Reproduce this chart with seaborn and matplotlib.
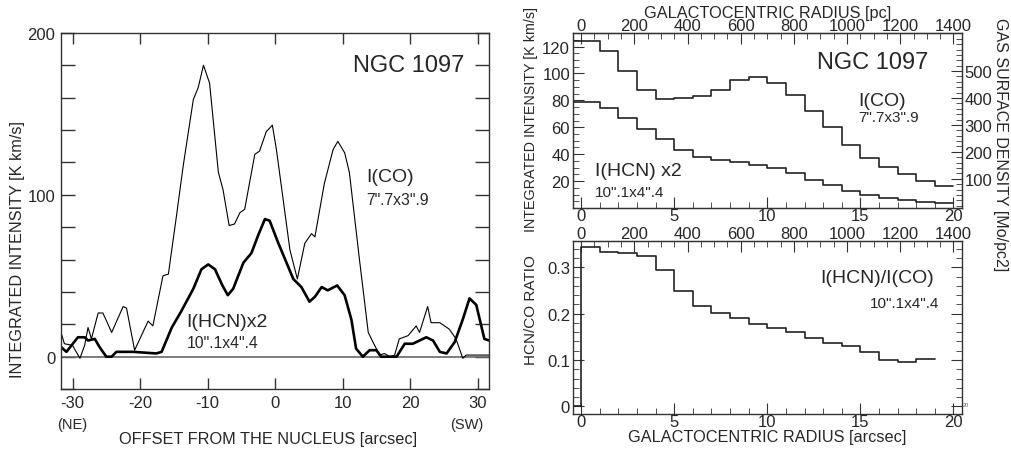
import numpy as np
import pandas as pd
import matplotlib
matplotlib.use("Agg")
import matplotlib.pyplot as plt
from matplotlib.ticker import MultipleLocator
import seaborn as sns

# ---- left panel: strip profiles along the bar (offset [arcsec], intensity [K km/s])
co_x = [-31.7, -31.2, -30.0, -28.9, -28.2, -27.7, -27.2, -26.2, -25.5, -24.2, -22.5, -22.0,
        -20.8, -18.8, -18.1, -16.6, -15.8, -14.6, -13.6, -12.1, -11.4, -10.6, -9.7, -8.4,
        -7.7, -6.8, -6.0, -5.2, -4.5, -3.0, -2.3, -1.3, -0.4, 0.2, 1.2, 2.2, 3.3, 4.4,
        5.4, 5.9, 7.3, 8.6, 9.3, 10.3, 11.0, 12.5, 13.8, 14.5, 15.5, 16.2, 17.0, 17.7,
        18.4, 19.7, 20.9, 21.4, 22.6, 23.1, 24.4, 25.8, 26.8, 27.8, 28.3, 31.7]
co_y = [15, 8, 7, -1, 7, 18, 11, 27, 27, 15, 31, 30,
        4, 22, 19, 50, 51, 87, 118, 159, 166, 180, 169, 114,
        103, 81, 82, 89, 91, 125, 127, 139, 143, 128, 97, 66, 48, 70,
        76, 74, 107, 128, 133, 126, 114, 60, 15, 9, 1, 2, 0, 1,
        11, 13, 19, 15, 31, 21, 21, 17, 11, -1, 1, 1]

hcn_x = [-31.7, -30.9, -29.2, -28.2, -27.7, -26.7, -26.0, -25.0, -24.2, -23.5, -21.0, -17.6,
         -16.8, -15.3, -13.9, -12.1, -10.9, -9.9, -8.9, -7.8, -7.0, -6.2, -4.7, -3.5,
         -2.5, -1.5, -0.8, 0.4, 1.4, 2.7, 3.9, 5.1, 5.9, 6.9, 7.8, 9.2, 10.3, 11.3,
         12.0, 13.0, 14.0, 15.0, 15.7, 18.0, 19.2, 20.4, 22.4, 23.4, 24.4, 25.4, 26.6,
         27.8, 28.8, 29.8, 31.0, 31.7]
hcn_y = [6, 3, 12, 12, 10, 11, 6, 0, 0, 3, 3, 2,
         3, 18, 28, 42, 54, 57, 54, 44, 38, 42, 58, 64,
         75, 85, 84, 71, 61, 48, 43, 34, 37, 43, 41, 44, 38, 23,
         5, 0, 4, 4, 0, 0, 8, 8, 12, 10, 3, 2, 9,
         23, 36, 32, 11, 10]

# ---- right panels: azimuthally averaged radial profiles, 1" bins
r_edges = list(range(0, 21))
co_rad = [124, 117, 102, 88, 81, 82, 83, 88, 95.5, 97, 93, 84, 72, 60, 47, 37, 30.5, 25.5, 20, 16.4]
hcn_rad = [79, 74, 67, 59, 51, 43, 38, 36, 34, 32, 30, 26, 20.6, 17, 13, 10, 7.4, 5.7, 4.5, 4]
ratio_rad = [0.343, 0.334, 0.330, 0.324, 0.294, 0.248, 0.217, 0.201, 0.190, 0.178,
             0.169, 0.160, 0.147, 0.136, 0.131, 0.117, 0.100, 0.096, 0.103]

PC_PER_ARCSEC = 70.0
RXMIN, RXMAX = -0.45, 20.45

sns.set_style("ticks")
plt.rcParams["font.family"] = ["Liberation Sans", "DejaVu Sans"]
plt.rcParams["axes.unicode_minus"] = False

TICK_FS = 12
LAB_FS = 11.7
LINE = "#333333"

fig = plt.figure(figsize=(10.12, 4.52), dpi=100)
axL = fig.add_axes([0.0603, 0.137, 0.423, 0.788])
axT = fig.add_axes([0.566, 0.5376, 0.3844, 0.387])
axB = fig.add_axes([0.566, 0.0819, 0.3844, 0.3834])

dark = "#222222"
for ax in (axL, axT, axB):
    for s in ax.spines.values():
        s.set_color(LINE)
        s.set_linewidth(1.0)

# ---------------- left panel
axL.axhline(0, color="#666666", lw=1.2, zorder=1)
sns.lineplot(x=co_x, y=co_y, ax=axL, color="black", lw=0.8, sort=False, estimator=None)
sns.lineplot(x=hcn_x, y=hcn_y, ax=axL, color="black", lw=1.9, sort=False, estimator=None)
axL.set_xlim(-31.7, 31.7)
axL.set_ylim(-20, 200)
axL.xaxis.set_major_locator(MultipleLocator(10))
axL.yaxis.set_major_locator(MultipleLocator(100))
axL.yaxis.set_minor_locator(MultipleLocator(20))
axL.tick_params(axis="both", which="both", direction="in", top=True, right=True,
                labelsize=TICK_FS, color=LINE, width=1.0, pad=4)
axL.tick_params(axis="y", which="both", length=10)
axL.tick_params(axis="x", which="both", length=8)
axL.set_xlabel("")
axL.set_ylabel("")
axL.text(11.6, 180, "NGC 1097", fontsize=17, ha="left", va="center")
axL.text(13.5, 111, "I(CO)", fontsize=14, ha="left", va="center")
axL.text(13.5, 97, "7\".7x3\".9", fontsize=11.3, ha="left", va="center")
axL.text(-13.1, 21.5, "I(HCN)x2", fontsize=14, ha="left", va="center")
axL.text(-13.1, 9, "10\".1x4\".4", fontsize=11.3, ha="left", va="center")
fig.text(71.7 / 1012, 1 - 425 / 452, "(NE)", fontsize=10.5, ha="center", va="center")
fig.text(466.7 / 1012, 1 - 425 / 452, "(SW)", fontsize=10.5, ha="center", va="center")
fig.text(268 / 1012, 1 - 440 / 452, "OFFSET FROM THE NUCLEUS [arcsec]", fontsize=LAB_FS,
         ha="center", va="center")
fig.text(18 / 1012, 1 - 250 / 452, "INTEGRATED INTENSITY [K km/s]", fontsize=LAB_FS,
         ha="center", va="center", rotation=90)


def steps(values):
    x = [RXMIN] + r_edges[1:len(values)] + [r_edges[len(values)]]
    y = list(values) + [values[-1]]
    return pd.DataFrame({"r": x, "v": y})


# ---------------- right top panel
for vals in (co_rad, hcn_rad):
    d = steps(vals)
    sns.lineplot(data=d, x="r", y="v", ax=axT, color=dark, lw=1.2,
                 drawstyle="steps-post", sort=False, estimator=None)
axT.set_xlim(RXMIN, RXMAX)
axT.set_ylim(0, 130)
axT.set_xlabel("")
axT.set_ylabel("")
axT.xaxis.set_major_locator(MultipleLocator(5))
axT.xaxis.set_minor_locator(MultipleLocator(1))
axT.set_yticks([20, 40, 60, 80, 100, 120])
axT.yaxis.set_minor_locator(MultipleLocator(5))
axT.tick_params(axis="both", which="major", direction="in", length=8, labelsize=TICK_FS,
                color=LINE, pad=2)
axT.tick_params(axis="both", which="minor", direction="in", length=4, color=LINE)
axT.tick_params(axis="x", which="both", bottom=True, top=False)
axT.tick_params(axis="x", which="major", pad=0)

secT = axT.secondary_xaxis("top", functions=(lambda r: r * PC_PER_ARCSEC,
                                             lambda p: p / PC_PER_ARCSEC))
secT.xaxis.set_major_locator(MultipleLocator(200))
secT.xaxis.set_minor_locator(MultipleLocator(50))
secT.tick_params(axis="x", which="major", direction="in", length=8, labelsize=TICK_FS,
                 color=LINE, pad=0)
secT.tick_params(axis="x", which="minor", direction="in", length=4, color=LINE)
secT.set_xlabel("GALACTOCENTRIC RADIUS [pc]", fontsize=LAB_FS, labelpad=1)

twT = axT.twinx()
twT.set_ylim(-8.7, 641.3)
twT.set_yticks([100, 200, 300, 400, 500])
twT.yaxis.set_minor_locator(MultipleLocator(20))
twT.tick_params(axis="y", which="major", direction="in", length=8, labelsize=TICK_FS,
                color=LINE, pad=2)
twT.tick_params(axis="y", which="minor", direction="in", length=4, color=LINE)
for s in twT.spines.values():
    s.set_color(LINE)

axT.text(12.67, 108.7, "NGC 1097", fontsize=17, ha="left", va="center")
axT.text(14.88, 80, "I(CO)", fontsize=14, ha="left", va="center")
axT.text(14.88, 67.7, "7\".7x3\".9", fontsize=11, ha="left", va="center")
axT.text(0.75, 28, "I(HCN) x2", fontsize=14, ha="left", va="center")
axT.text(0.75, 12, "10\".1x4\".4", fontsize=11, ha="left", va="center")

fig.text(531 / 1012, 1 - 120 / 452, "INTEGRATED INTENSITY [K km/s]", fontsize=10.3,
         ha="center", va="center", rotation=90)
fig.text(1001 / 1012, 1 - 145 / 452, "GAS SURFACE DENSITY [Mo/pc2]", fontsize=11.5,
         ha="center", va="center", rotation=270)

# ---------------- right bottom panel
d = steps(ratio_rad)
d.loc[0, "v"] = 0.0
d = pd.concat([d.iloc[:1], pd.DataFrame({"r": [0.0], "v": [ratio_rad[0]]}), d.iloc[1:]],
              ignore_index=True)
d.loc[0, "r"] = RXMIN
sns.lineplot(data=d, x="r", y="v", ax=axB, color=dark, lw=1.2,
             drawstyle="steps-post", sort=False, estimator=None)
axB.set_xlim(RXMIN, RXMAX)
axB.set_ylim(-0.0165, 0.3576)
axB.set_ylabel("")
axB.xaxis.set_major_locator(MultipleLocator(5))
axB.xaxis.set_minor_locator(MultipleLocator(1))
axB.set_yticks([0, 0.1, 0.2, 0.3])
axB.set_yticklabels(["0", "0.1", "0.2", "0.3"])
axB.yaxis.set_minor_locator(MultipleLocator(0.02))
axB.tick_params(axis="both", which="major", direction="in", length=8, labelsize=TICK_FS,
                color=LINE, pad=2, right=True)
axB.tick_params(axis="both", which="minor", direction="in", length=4, color=LINE,
                right=True)
axB.tick_params(axis="x", which="major", pad=0)
axB.set_xlabel("GALACTOCENTRIC RADIUS [arcsec]", fontsize=LAB_FS, labelpad=0)

secB = axB.secondary_xaxis("top", functions=(lambda r: r * PC_PER_ARCSEC,
                                             lambda p: p / PC_PER_ARCSEC))
secB.xaxis.set_major_locator(MultipleLocator(200))
secB.xaxis.set_minor_locator(MultipleLocator(50))
secB.tick_params(axis="x", which="major", direction="in", length=8, labelsize=TICK_FS,
                 color=LINE, pad=0)
secB.tick_params(axis="x", which="minor", direction="in", length=4, color=LINE)

axB.text(12.85, 0.278, "I(HCN)/I(CO)", fontsize=14, ha="left", va="center")
axB.text(15.5, 0.224, "10\".1x4\".4", fontsize=11, ha="left", va="center")
axB.text(20.5, 0.005, "20", fontsize=4, ha="left", va="center", color="#555555")

fig.text(531 / 1012, 1 - 310 / 452, "HCN/CO RATIO", fontsize=11,
         ha="center", va="center", rotation=90)

fig.savefig("out.png", dpi=100)
